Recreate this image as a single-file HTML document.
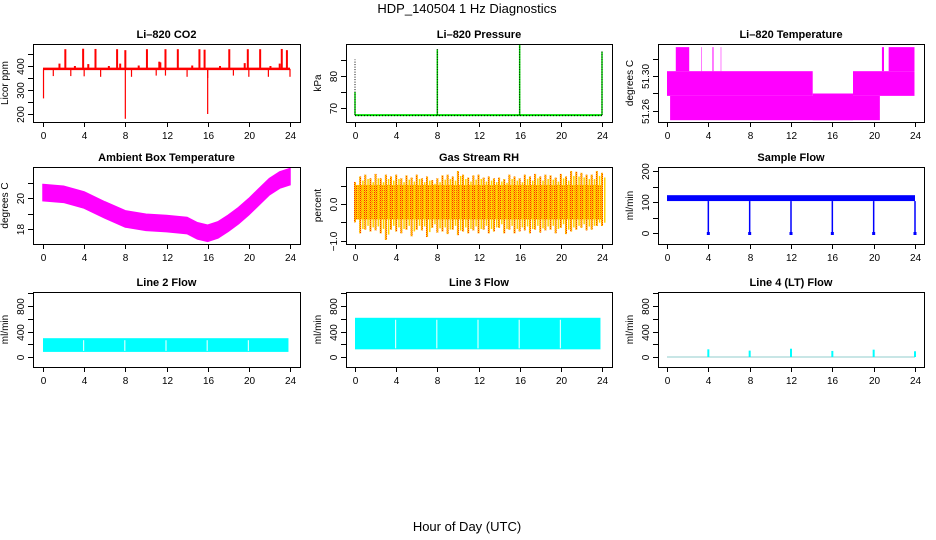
<!DOCTYPE html>
<html><head><meta charset="utf-8">
<style>
html,body{margin:0;padding:0;background:#fff;}
svg{display:block;font-family:"Liberation Sans",Arial,sans-serif;}
</style></head>
<body>
<svg id="fig" width="936" height="540" viewBox="0 0 936 540" xmlns="http://www.w3.org/2000/svg">
<defs>
<pattern id="rhpat" width="2" height="2" patternUnits="userSpaceOnUse">
<rect width="2" height="2" fill="#ffd400"/><rect width="1" height="1" fill="#ff2a00"/><rect x="1" y="1" width="1" height="1" fill="#ff8c00"/>
</pattern>
</defs>
<text x="467" y="13" font-size="13" text-anchor="middle">HDP_140504  1 Hz Diagnostics</text>
<text x="467" y="531" font-size="13" text-anchor="middle">Hour of Day (UTC)</text>
</svg>
<script>
// ---------- data ----------
const xTicks = [0,4,8,12,16,20,24];
// CO2
const co2Base = 388;
const co2SpikeT = [2.17,3.9,5.1,7.2,8.0,10.1,11.9,13.1,15.2,15.7,18.1,19.9,21.1,23.2,23.7];
const co2SpikeV = [470,472,471,470,466,470,470,470,470,468,470,470,470,471,466];
const co2DipT = [0.05,1.0,2.7,4.0,5.6,8.0,8.6,11.0,11.9,14.0,16.0,16.0,18.5,20.0,21.9,24.0];
const co2DipV = [265,358,358,357,355,180,355,360,360,355,200,350,360,355,355,355];
const co2BumpT = [1.6,3.1,4.4,6.4,7.5,9.3,11.3,11.4,14.5,17.2,19.6,22.1,23.0];
const co2BumpV = [410,400,408,400,410,402,418,415,402,400,412,400,410];
// Pressure
const presBase = 67.8;
const presSpikeT = [0,8,16,24];
const presSpikeV = [85,88.2,89.8,87.5];
const presGreenTop = [75,88.2,89.8,87.5];
// Li-820 temperature segments
const tempSegStart = [0,0.3,0.85,21.45,14.1,18.0,3.3,4.4,5.2,20.8];
const tempSegEnd =   [14.1,20.6,2.15,23.95,18.0,23.95,3.35,4.5,5.25,21.0];
const tempSegLow =   [51.2773,51.2495,51.3055,51.3055,51.2495,51.2773,51.3055,51.3055,51.3055,51.3055];
const tempSegHigh =  [51.3055,51.2773,51.333,51.333,51.2800,51.3055,51.333,51.333,51.333,51.333];
// Ambient box temperature
const ambT = [0,2,4,6,8,10,12,14,15,16,17,18,19,20,21,22,23,24];
const ambMid = [20.37,20.26,19.89,19.25,18.67,18.45,18.37,18.24,17.9,17.74,17.96,18.39,18.88,19.46,20.11,20.75,21.18,21.4];
const ambSpread = 0.52;
// Gas stream RH
const rhCoreLo = -0.42, rhCoreHi = 0.52;
const rhSpikeHi = [0.6,0.75,0.8,0.7,0.82,0.7,0.8,0.75,0.8,0.7,0.78,0.72,0.8,0.7,0.75,0.65,0.7,0.78,0.8,0.75,0.9,0.8,0.72,0.78,0.8,0.72,0.75,0.7,0.72,0.68,0.8,0.75,0.7,0.8,0.75,0.82,0.75,0.8,0.78,0.72,0.82,0.75,0.9,0.88,0.85,0.8,0.8,0.9,0.85];
const rhSpikeLo = [-0.5,-0.8,-0.7,-0.75,-0.72,-0.8,-0.98,-0.7,-0.75,-0.8,-0.7,-0.88,-0.7,-0.72,-0.9,-0.65,-0.78,-0.75,-0.82,-0.7,-0.85,-0.75,-0.8,-0.72,-0.8,-0.7,-0.8,-0.75,-0.65,-0.8,-0.7,-0.8,-0.75,-0.72,-0.8,-0.7,-0.78,-0.72,-0.7,-0.8,-0.65,-0.82,-0.75,-0.7,-0.65,-0.72,-0.7,-0.6,-0.6];
// Sample flow
const sfLo = 103, sfHi = 122;
const sfDipT = [4,8,12,16,20,24];
const sfDipV = [-5,-5,-5,-5,-5,-5];
// Line 2 / Line 3 flow
const l2Lo = 80, l2Hi = 295;
const l3Lo = 120, l3Hi = 615;
const flowGapT = [4,8,12,16,20];
// Line 4 flow
const l4Base = 0;
const l4SpikeT = [4,8,12,16,20,24];
const l4SpikeV = [120,100,130,95,115,90];

// ---------- layout ----------
const svg = document.getElementById('fig');
const NS = 'http://www.w3.org/2000/svg';
function el(tag, attrs, parent){ const e=document.createElementNS(NS,tag); for(const k in attrs) e.setAttribute(k,attrs[k]); (parent||svg).appendChild(e); return e; }
const cols = [{bl:33,br:300,x0:43,x24:290},{bl:346,br:612,x0:355,x24:602},{bl:658,br:924,x0:667,x24:915}];
const rows = [{top:44,bot:122},{top:167,bot:244},{top:292,bot:367}];

function panel(name, title, ylab, c, r, v1, y1, v2, y2, ticks, labels){
  const C=cols[c], R=rows[r];
  const g = el('g',{});
  
  
  const xs = t => C.x0 + (C.x24-C.x0)*t/24;
  const ys = v => y1 + (v-v1)*(y2-y1)/(v2-v1);
  const t = el('text',{x:(C.bl+C.br)/2,y:R.top-6,'font-size':11,'font-weight':'bold','text-anchor':'middle'},g);
  t.textContent = title;
  
  
  const yl = el('text',{x:0,y:0,'font-size':10,'text-anchor':'middle',transform:`translate(${C.bl-25},${(R.top+R.bot)/2}) rotate(-90)`},g);
  yl.textContent = ylab;
  
  
  const plot = el('g',{},g);
  
  
  const cp = el('clipPath',{id:'clip'+name},g);
  el('rect',{x:C.bl,y:R.top,width:C.br-C.bl,height:R.bot-R.top},cp);
  plot.setAttribute('clip-path','url(#clip'+name+')');
  const ax = el('g',{stroke:'#000','stroke-width':1,fill:'none'},g);
  
  
  el('rect',{x:C.bl+0.5,y:R.top+0.5,width:C.br-C.bl,height:R.bot-R.top},ax);
  xTicks.forEach(v=>{
    const x=Math.round(xs(v))+0.5;
    el('line',{x1:x,x2:x,y1:R.bot,y2:R.bot+5},ax);
    const tl = el('text',{x:x,y:R.bot+17,'font-size':10,'text-anchor':'middle',fill:'#000',stroke:'none'},g);
    tl.textContent=v;
    
    
  });
  ticks.forEach((v,i)=>{
    const y=Math.round(ys(v))+0.5;
    el('line',{x1:C.bl-5,x2:C.bl,y1:y,y2:y},ax);
    if(labels[i]!==''){
      const tl = el('text',{x:0,y:0,'font-size':10,'text-anchor':'middle',fill:'#000',stroke:'none',transform:`translate(${C.bl-9},${y}) rotate(-90)`},g);
      tl.textContent=labels[i];
      
      
    }
  });
  return {xs,ys,plot,C,R};
}

// CO2
(function(){
  const p = panel('co2','Li\u2013820 CO2','Licor ppm',0,0,200,114,400,66,[200,250,300,350,400,450],['200','','300','','400','']);
  const col='#ff0000';
  el('line',{x1:p.xs(0),x2:p.xs(24),y1:p.ys(co2Base),y2:p.ys(co2Base),stroke:col,'stroke-width':2.5},p.plot);
  co2SpikeT.forEach((t,i)=>{ const s=el('rect',{x:p.xs(t)-1,y:p.ys(co2SpikeV[i]),width:2,height:p.ys(co2Base)-p.ys(co2SpikeV[i]),fill:col},p.plot);
      });
  co2DipT.forEach((t,i)=>{ const s=el('rect',{x:p.xs(t)-0.6,y:p.ys(co2Base),width:1.2,height:p.ys(co2DipV[i])-p.ys(co2Base),fill:col},p.plot);
      });
  co2BumpT.forEach((t,i)=>{ const s=el('rect',{x:p.xs(t)-1,y:p.ys(co2BumpV[i]),width:2,height:p.ys(co2Base)-p.ys(co2BumpV[i]),fill:col},p.plot);
      });
})();

// Pressure
(function(){
  const p = panel('pressure','Li\u2013820 Pressure','kPa',1,0,70,108,80,75.7,[70,75,80,85],['70','','80','']);
  el('line',{x1:p.xs(0),x2:p.xs(24),y1:p.ys(presBase),y2:p.ys(presBase),stroke:'#00dd00','stroke-width':2},p.plot);
  el('line',{x1:p.xs(0),x2:p.xs(24),y1:p.ys(presBase)+0.5,y2:p.ys(presBase)+0.5,stroke:'#000','stroke-width':1,'stroke-dasharray':'1 2'},p.plot);
  presSpikeT.forEach((t,i)=>{
    const x=p.xs(t);
    const s=el('line',{x1:x,x2:x,y1:p.ys(presBase),y2:p.ys(presGreenTop[i]),stroke:'#00dd00','stroke-width':1.5},p.plot);
     
    el('line',{x1:x,x2:x,y1:p.ys(presBase),y2:p.ys(presSpikeV[i]),stroke:'#000','stroke-width':1,'stroke-dasharray':'1 1.5'},p.plot);
  });
})();

// Li-820 temperature
(function(){
  const p = panel('li820temp','Li\u2013820 Temperature','degrees C',2,0,51.30,76,51.32,58.5,[51.26,51.28,51.30,51.32],['51.26','','51.30','']);
  tempSegStart.forEach((s,i)=>{
    const r=el('rect',{x:p.xs(s),y:p.ys(tempSegHigh[i]),width:p.xs(tempSegEnd[i])-p.xs(s),height:p.ys(tempSegLow[i])-p.ys(tempSegHigh[i]),fill:'#ff00ff'},p.plot);
     
  });
})();

// Ambient
(function(){
  const p = panel('ambient','Ambient Box Temperature','degrees C',0,1,20,198.3,18,229.3,[18,19,20,21],['18','','20','']);
  let d='M'+ambT.map((t,i)=>p.xs(t)+','+p.ys(ambMid[i]+ambSpread)).join(' L');
  for(let i=ambT.length-1;i>=0;i--) d+=' L'+p.xs(ambT[i])+','+p.ys(ambMid[i]-ambSpread);
  const b=el('path',{d:d+'Z',fill:'#ff00ff',stroke:'#ff00ff','stroke-width':1.5},p.plot);
   
})();

// RH
(function(){
  const p = panel('rh','Gas Stream RH','percent',1,1,0,204,-1,240.7,[-1,-0.5,0,0.5],['\u22121.0','','0.0','']);
  const core=el('rect',{x:p.xs(0),y:p.ys(rhCoreHi),width:p.xs(24)-p.xs(0),height:p.ys(rhCoreLo)-p.ys(rhCoreHi),fill:'url(#rhpat)'},p.plot);
   
  rhSpikeHi.forEach((v,i)=>{
    const t=i*0.5, x=p.xs(t);
    const a=el('rect',{x:x-1,y:p.ys(v),width:2,height:p.ys(rhSpikeLo[i])-p.ys(v),fill:'url(#rhpat)'},p.plot);
     
    el('rect',{x:x+2,y:p.ys(v*0.85),width:1.5,height:p.ys(rhSpikeLo[i]*0.85)-p.ys(v*0.85),fill:'#ffd400'},p.plot);
  });
})();

// Sample flow
(function(){
  const p = panel('sampleflow','Sample Flow','ml/min',2,1,0,233,100,202,[0,50,100,150,200],['0','','100','','200']);
  const b=el('rect',{x:p.xs(0),y:p.ys(sfHi),width:p.xs(24)-p.xs(0),height:p.ys(sfLo)-p.ys(sfHi),fill:'#0000ff'},p.plot);
   
  sfDipT.forEach((t,i)=>{
    const s=el('line',{x1:p.xs(t),x2:p.xs(t),y1:p.ys(sfLo),y2:p.ys(sfDipV[i]),stroke:'#0000ff','stroke-width':1.5},p.plot);
     
    el('rect',{x:p.xs(t)-1.5,y:p.ys(sfDipV[i]+5)-1,width:3,height:3,fill:'#0000ff'},p.plot);
  });
})();

function flowBand(p,lo,hi,name){
  const b=el('rect',{x:p.xs(0),y:p.ys(hi),width:p.xs(23.85)-p.xs(0),height:p.ys(lo)-p.ys(hi),fill:'#00ffff'},p.plot);
   
  flowGapT.forEach(t=>{
    const g=el('line',{x1:p.xs(t)-0.5,x2:p.xs(t)-0.5,y1:p.ys(hi)+2,y2:p.ys(lo)-1,stroke:'#fff','stroke-width':1},p.plot);
     
  });
}
(function(){
  const p = panel('line2','Line 2 Flow','ml/min',0,2,0,357,400,331.5,[0,200,400,600,800,1000],['0','','400','','800','']);
  flowBand(p,l2Lo,l2Hi,'line2-flow');
})();
(function(){
  const p = panel('line3','Line 3 Flow','ml/min',1,2,0,357,400,331.5,[0,200,400,600,800,1000],['0','','400','','800','']);
  flowBand(p,l3Lo,l3Hi,'line3-flow');
})();
(function(){
  const p = panel('line4','Line 4 (LT) Flow','ml/min',2,2,0,357,400,331.5,[0,200,400,600,800,1000],['0','','400','','800','']);
  const b=el('line',{x1:p.xs(0),x2:p.xs(24),y1:p.ys(l4Base),y2:p.ys(l4Base),stroke:'#a8d8d8','stroke-width':1.2},p.plot);
   
  l4SpikeT.forEach((t,i)=>{
    const s=el('rect',{x:p.xs(t)-1,y:p.ys(l4SpikeV[i]),width:2,height:p.ys(l4Base)-p.ys(l4SpikeV[i]),fill:'#00ffff'},p.plot);
     
  });
})();
</script>
</body></html>
